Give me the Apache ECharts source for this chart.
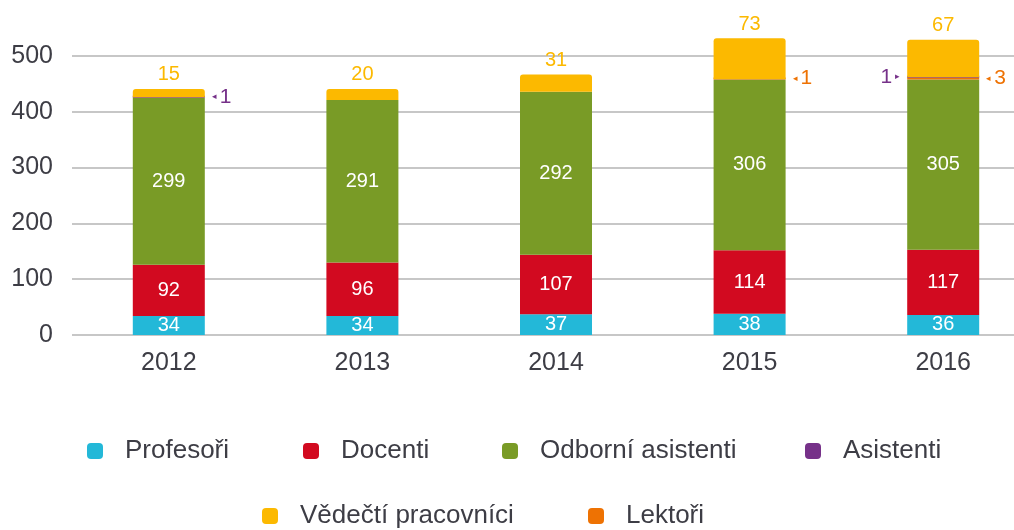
<!DOCTYPE html>
<html>
<head>
<meta charset="utf-8">
<script src="https://cdn.jsdelivr.net/npm/echarts@6/dist/echarts.min.js"></script>
<style>
  html, body { margin: 0; padding: 0; background: #fff; }
  #chart { width: 1014px; height: 530px; }
</style>
</head>
<body>
<div id="chart"></div>
<script>
// data
var years = ['2012', '2013', '2014', '2015', '2016'];
var profesori = [34, 34, 37, 38, 36];
var docenti = [92, 96, 107, 114, 117];
var odborni = [299, 291, 292, 306, 305];
var asistenti = [1, 0, 0, 0, 1];
var lektori = [0, 0, 0, 1, 3];
var vedecti = [15, 20, 31, 73, 67];

var FONT = '"Liberation Sans", Arial, Helvetica, sans-serif';
var TEXT = '#3d3d45';

var colors = {
    prof: '#23b8d8',
    doc: '#d20a20',
    odb: '#799b26',
    asi: '#763189',
    ved: '#fcb900',
    lek: '#ee7203'
};

// tiny value labels beside the bar, with a little arrow pointing at it
function sideData(values, color, leftIdx) {
    return values.map(function (v, i) {
        if (!v) return { value: '-', label: { show: false } };
        var left = i === leftIdx;
        return {
            value: v,
            label: {
                show: true,
                position: left ? 'left' : 'right',
                distance: 4,
                formatter: left ? '{v|' + v + '}{a|▸}' : '{a|◂}{v|' + v + '}',
                rich: {
                    v: { fontSize: 21, color: color, fontFamily: FONT },
                    a: { fontSize: 9, color: color, padding: [0, 3, 0, 3] }
                }
            }
        };
    });
}

function innerLabel() {
    return { show: true, position: 'inside', color: '#fff', fontSize: 20, fontFamily: FONT };
}

// one legend per entry so each sits where the reference puts it
function legendItem(name, left, top) {
    return {
        data: [name], left: left, top: top,
        icon: 'roundRect', itemWidth: 16, itemHeight: 16,
        textStyle: { fontSize: 26, color: TEXT, padding: [0, 0, 0, 17], fontFamily: FONT }
    };
}

var chart = echarts.init(document.getElementById('chart'));
chart.setOption({
    animation: false,
    textStyle: { fontFamily: FONT },
    grid: { left: 72, top: 56, width: 968, height: 279, outerBoundsMode: 'none' },
    legend: [
        legendItem('Profesoři', 82, 433),
        legendItem('Docenti', 298, 433),
        legendItem('Odborní asistenti', 497, 433),
        legendItem('Asistenti', 800, 433),
        legendItem('Vědečtí pracovníci', 257, 498),
        legendItem('Lektoři', 583, 498)
    ],
    xAxis: {
        type: 'category',
        data: years,
        axisLine: { show: false },
        axisTick: { show: false },
        axisLabel: { fontSize: 25, color: TEXT, margin: 16, fontFamily: FONT }
    },
    yAxis: {
        type: 'value',
        min: 0, max: 500, interval: 100,
        axisLine: { show: false },
        axisTick: { show: false },
        axisLabel: { fontSize: 25, color: TEXT, margin: 19, fontFamily: FONT },
        splitLine: { lineStyle: { color: '#b5b5b5', width: 1.5 } }
    },
    series: [
        { name: 'Profesoři', type: 'bar', stack: 'a', barWidth: 72, clip: false,
          itemStyle: { color: colors.prof }, label: innerLabel(), data: profesori },
        { name: 'Docenti', type: 'bar', stack: 'a', barWidth: 72, clip: false,
          itemStyle: { color: colors.doc }, label: innerLabel(), data: docenti },
        { name: 'Odborní asistenti', type: 'bar', stack: 'a', barWidth: 72, clip: false,
          itemStyle: { color: colors.odb }, label: innerLabel(), data: odborni },
        { name: 'Lektoři', type: 'bar', stack: 'a', barWidth: 72, clip: false, barMinHeight: 2,
          itemStyle: { color: colors.lek }, data: sideData(lektori, colors.lek, -1) },
        { name: 'Asistenti', type: 'bar', stack: 'a', barWidth: 72, clip: false, barMinHeight: 2,
          itemStyle: { color: colors.asi }, data: sideData(asistenti, colors.asi, 4) },
        { name: 'Vědečtí pracovníci', type: 'bar', stack: 'a', barWidth: 72, clip: false,
          itemStyle: { color: colors.ved, borderRadius: [3, 3, 0, 0] },
          label: { show: true, position: 'top', distance: 4, color: colors.ved, fontSize: 20, fontFamily: FONT },
          data: vedecti }
    ]
});
</script>
</body>
</html>
